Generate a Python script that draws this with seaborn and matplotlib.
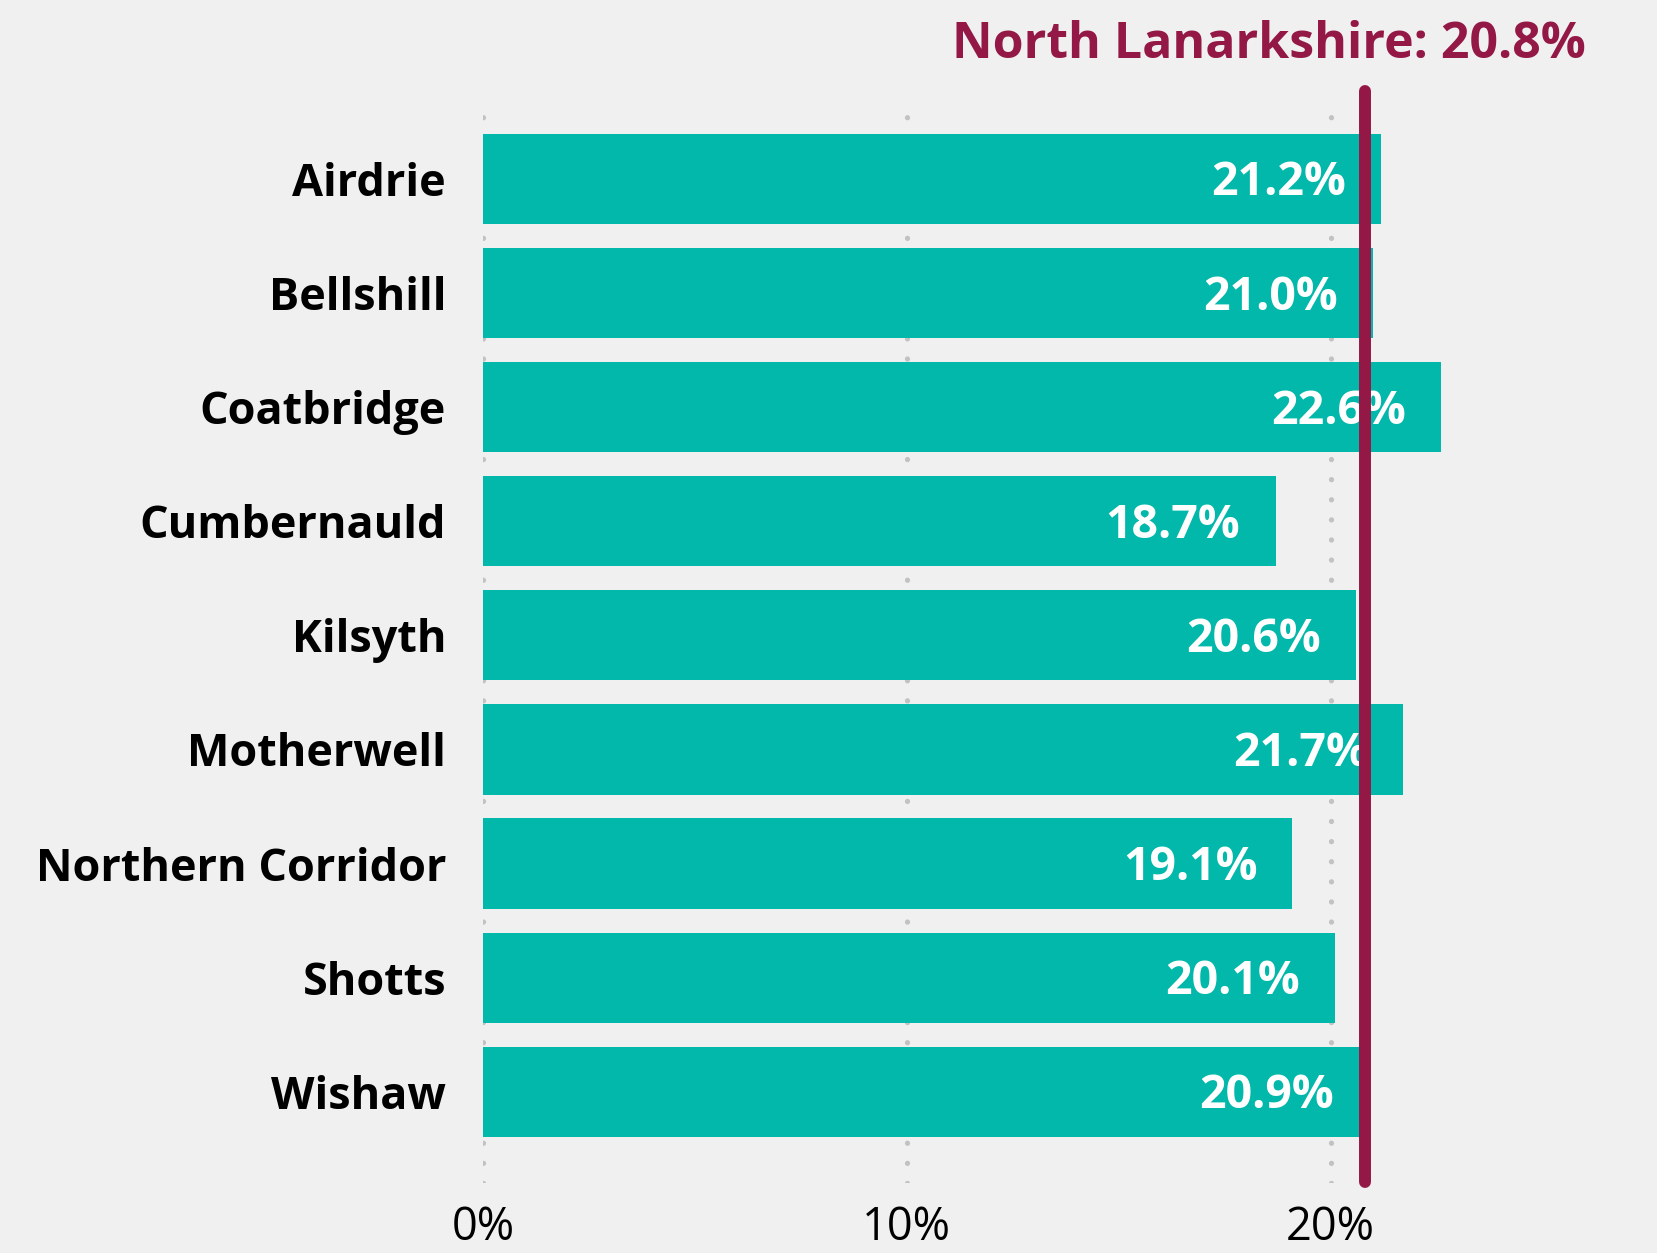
import matplotlib
matplotlib.use("Agg")
from matplotlib import pyplot as plt
from matplotlib import font_manager as fm
import pandas as pd
import seaborn as sns

# Data
areas = ["Airdrie", "Bellshill", "Coatbridge", "Cumbernauld", "Kilsyth",
         "Motherwell", "Northern Corridor", "Shotts", "Wishaw"]
values = [21.2, 21.0, 22.6, 18.7, 20.6, 21.7, 19.1, 20.1, 20.9]
reference_name = "North Lanarkshire"
reference_value = 20.8
x_ticks = [0, 10, 20]

BG = "#f0f0f0"
BAR = "#01b8aa"
LINE = "#931846"

# pick the first family that actually has a bold face installed
family = "DejaVu Sans"
for fam in ["Open Sans", "Noto Sans", "Lato", "Roboto"]:
    if any(f.name == fam and f.weight in (600, 700, "bold", "semibold") for f in fm.fontManager.ttflist):
        family = fam
        break

sns.set_style("white")
plt.rcParams['font.family'] = [family, 'DejaVu Sans']

df = pd.DataFrame({"area": areas, "value": values})

fig = plt.figure(figsize=(16.58, 12.53), dpi=100, facecolor=BG)
ax = fig.add_axes([483 / 1658, 1 - 1183 / 1253, (1640 - 483) / 1658, (1183 - 104) / 1253])
ax.set_facecolor(BG)

sns.barplot(data=df, x="value", y="area", orient="h", color=BAR, width=0.79,
            saturation=1, linewidth=0, ax=ax, zorder=2)

ax.set_xlim(0, 27.3)
ax.set_ylim(8.80, -0.657)

# dotted gridlines
for t in x_ticks:
    ax.axvline(t, color="#c2c2c2", lw=3.8, linestyle=(0, (0.01, 3.8)),
               dash_capstyle="round", zorder=1)

# value labels inside bars
for i, v in enumerate(values):
    ax.text(v - 0.83, i + 0.035, f"{v:.1f}%", ha="right", va="center",
            color="white", fontsize=33.5, fontweight="bold", zorder=3)

# reference line
ax.axvline(reference_value, ymin=0.001, ymax=1.012, color=LINE, lw=8.6,
           solid_capstyle="round", clip_on=False, zorder=4)
fig.text(1586 / 1658, 1 - 58 / 1253, f"{reference_name}: {reference_value:.1f}%",
         ha="right", va="baseline", color=LINE, fontsize=36, fontweight="bold")

ax.set_xticks(x_ticks)
ax.set_xticklabels([f"{t}%" for t in x_ticks])
ax.tick_params(axis="x", length=0, pad=16, labelsize=32.5, labelcolor="black")
ax.tick_params(axis="y", length=0, pad=26.6, labelsize=32.4, labelcolor="black")
for lab in ax.get_yticklabels():
    lab.set_fontweight("bold")
ax.set_xlabel("")
ax.set_ylabel("")
sns.despine(ax=ax, left=True, bottom=True)

fig.savefig("out.png", dpi=100, facecolor=BG)
